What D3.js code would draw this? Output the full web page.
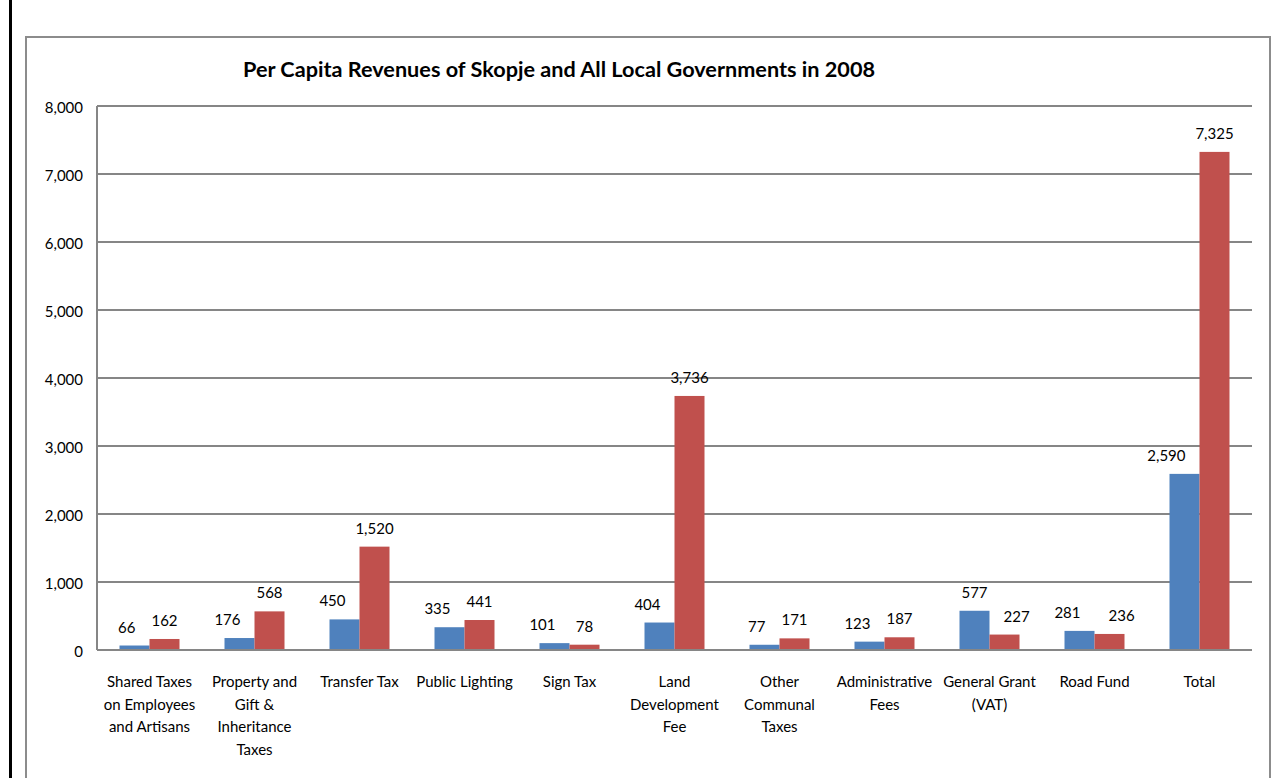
<!DOCTYPE html>
<html><head><meta charset="utf-8">
<script src="https://cdn.jsdelivr.net/npm/d3@7"></script>
<style>body{margin:0;background:#fff;}svg{display:block;}</style>
</head><body>
<svg id="chart" width="1283" height="778"></svg>
<script>
const categories = [
  ["Shared Taxes","on Employees","and Artisans"],
  ["Property and","Gift &","Inheritance","Taxes"],
  ["Transfer Tax"],
  ["Public Lighting"],
  ["Sign Tax"],
  ["Land","Development","Fee"],
  ["Other","Communal","Taxes"],
  ["Administrative","Fees"],
  ["General Grant","(VAT)"],
  ["Road Fund"],
  ["Total"]
];
const skopje = [66,176,450,335,101,404,77,123,577,281,2590];
const allLG = [162,568,1520,441,78,3736,171,187,227,236,7325];
const yTicks = [0,1000,2000,3000,4000,5000,6000,7000,8000];
const title = "Per Capita Revenues of Skopje and All Local Governments in 2008";

const svg = d3.select("#chart");
const font = "Lato, 'Open Sans', sans-serif";
const L = 97, R = 1252, T = 106, B = 650;

// label alignment (Excel-like placement of data labels)
const blueAlign = ["end","end","end","end","end","end","end","end","middle","end","end"];
const redAlign  = ["middle","middle","middle","middle","middle","middle","middle","middle","start","start","middle"];

// frame lines
svg.append("line").attr("x1",10.5).attr("x2",10.5).attr("y1",0).attr("y2",778).attr("stroke","#000").attr("stroke-width",3);
svg.append("rect").attr("x",26).attr("y",37).attr("width",1244).attr("height",800).attr("fill","none").attr("stroke","#8c8c8c").attr("stroke-width",2);

const x0 = d3.scaleBand().domain(d3.range(categories.length)).range([L,R]).paddingInner(0).paddingOuter(0);
const y = d3.scaleLinear().domain([0,8000]).range([B,T]);
const bw = x0.bandwidth()/3.5;

// gridlines
svg.append("g").selectAll("line").data(yTicks.slice(1)).join("line")
  .attr("x1",L).attr("x2",R).attr("y1",d=>y(d)).attr("y2",d=>y(d))
  .attr("stroke","#868686").attr("stroke-width",2);

// y axis labels
svg.append("g").selectAll("text").data(yTicks).join("text")
  .attr("x",83).attr("y",d=>y(d)+7).attr("text-anchor","end")
  .attr("font-family",font).attr("font-size",15).attr("fill","#000")
  .text(d=>d3.format(",")(d));

// bars
const series = [
  {vals:skopje,color:"#4F81BD",off:0,align:blueAlign,shift:1},
  {vals:allLG,color:"#C0504D",off:1,align:redAlign,shift:-1}
];
series.forEach(s=>{
  const g = svg.append("g");
  const cx = i => x0(i)+x0.bandwidth()/2 - bw + s.off*bw + bw/2;
  g.selectAll("rect").data(s.vals).join("rect")
    .attr("x",(d,i)=>cx(i)-bw/2)
    .attr("y",d=>y(d)).attr("width",bw).attr("height",d=>B-y(d))
    .attr("fill",s.color);
  g.selectAll("text").data(s.vals).join("text")
    .attr("x",(d,i)=>cx(i) + (s.align[i]==="middle"?0:s.shift))
    .attr("y",d=>y(d)-13).attr("text-anchor",(d,i)=>s.align[i])
    .attr("font-family",font).attr("font-size",15).attr("fill","#000")
    .text(d=>d3.format(",")(d));
});

// axis lines
svg.append("line").attr("x1",L).attr("x2",L).attr("y1",T).attr("y2",B).attr("stroke","#868686").attr("stroke-width",2);
svg.append("line").attr("x1",L).attr("x2",R).attr("y1",B).attr("y2",B).attr("stroke","#868686").attr("stroke-width",2);

// category labels
const cg = svg.append("g");
categories.forEach((lines,i)=>{
  const t = cg.append("text").attr("text-anchor","middle")
    .attr("font-family",font).attr("font-size",15).attr("fill","#000");
  lines.forEach((ln,j)=>{
    t.append("tspan").attr("x",x0(i)+x0.bandwidth()/2).attr("y",687+j*22.5).text(ln);
  });
});

// title
svg.append("text").attr("x",559).attr("y",77).attr("text-anchor","middle")
  .attr("font-family",font).attr("font-weight","bold").attr("font-size",20)
  .attr("textLength",632).attr("lengthAdjust","spacingAndGlyphs")
  .attr("fill","#000").text(title);
</script>
</body></html>
